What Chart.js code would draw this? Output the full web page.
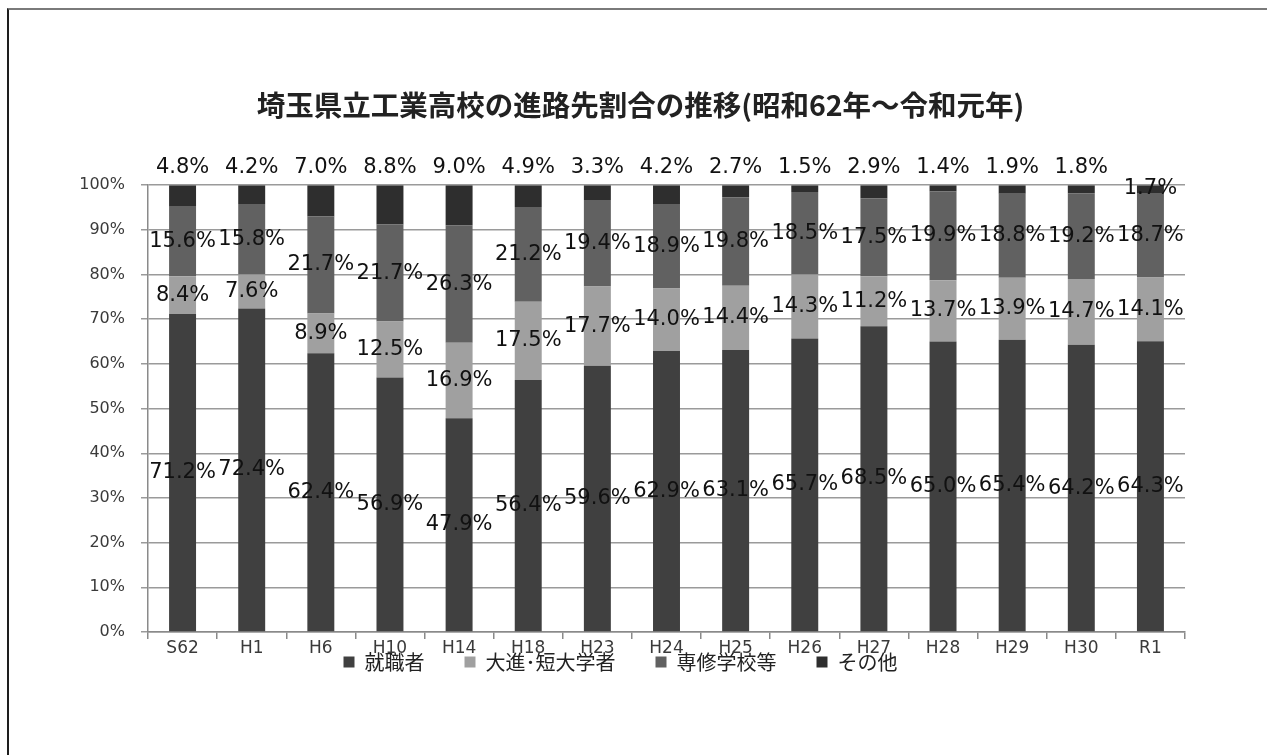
<!DOCTYPE html>
<html lang="ja">
<head>
<meta charset="utf-8">
<title>埼玉県立工業高校の進路先割合の推移</title>
<script src="https://cdn.jsdelivr.net/npm/chart.js@4.4.1/dist/chart.umd.min.js"></script>
<style>
  html, body { margin: 0; padding: 0; background: #fff; overflow: hidden; }
  #wrap { position: relative; width: 1267px; height: 755px; }
  #frame {
    position: absolute; left: 7px; top: 8px; width: 1300px; height: 800px;
    border-top: 2px solid #7a7a7a; border-left: 2px solid #1e1e1e;
  }
  #box { position: absolute; left: 0; top: 0; width: 1267px; height: 755px; }
</style>
</head>
<body>
<div id="wrap">
  <div id="frame"></div>
  <div id="box"><canvas id="myChart"></canvas></div>
</div>
<script>
// categories (年度)
const years = ["S62", "H1", "H6", "H10", "H14", "H18", "H23", "H24", "H25", "H26", "H27", "H28", "H29", "H30", "R1"];

// 進路先ごとの割合 (%)
const shushoku = [71.2, 72.4, 62.4, 56.9, 47.9, 56.4, 59.6, 62.9, 63.1, 65.7, 68.5, 65.0, 65.4, 64.2, 64.3];
const daishin  = [8.4, 7.6, 8.9, 12.5, 16.9, 17.5, 17.7, 14.0, 14.4, 14.3, 11.2, 13.7, 13.9, 14.7, 14.1];
const senshu   = [15.6, 15.8, 21.7, 21.7, 26.3, 21.2, 19.4, 18.9, 19.8, 18.5, 17.5, 19.9, 18.8, 19.2, 18.7];
const sonota   = [4.8, 4.2, 7.0, 8.8, 9.0, 4.9, 3.3, 4.2, 2.7, 1.5, 2.9, 1.4, 1.9, 1.8, 1.7];

const seriesNames = ["就職者", "大進･短大学者", "専修学校等", "その他"];
const yTicks = [0, 10, 20, 30, 40, 50, 60, 70, 80, 90, 100];

// 100%積み上げにするため各年の合計で割る
const totals = years.map(function (y, i) {
  return shushoku[i] + daishin[i] + senshu[i] + sonota[i];
});
function toShare(arr) {
  return arr.map(function (v, i) { return v / totals[i] * 100; });
}

const rawValues = [shushoku, daishin, senshu, sonota];
const colors = ["#404040", "#a0a0a0", "#616161", "#2e2e2e"];

// 値ラベル（Excel 風）
const valueLabels = {
  id: "valueLabels",
  afterDatasetsDraw: function (chart) {
    const ctx = chart.ctx;
    const area = chart.chartArea;
    ctx.save();
    ctx.font = "21px 'DejaVu Sans'";
    ctx.fillStyle = "#111";
    ctx.textAlign = "center";
    ctx.textBaseline = "middle";
    chart.data.datasets.forEach(function (ds, di) {
      const meta = chart.getDatasetMeta(di);
      meta.data.forEach(function (bar, i) {
        const text = rawValues[di][i].toFixed(1) + "%";
        let y = (bar.y + bar.base) / 2;
        if (di === 3 && i < years.length - 1) {
          y = area.top - 18;
        }
        ctx.fillText(text, bar.x, y);
      });
    });
    ctx.restore();
  }
};

// タイトルと凡例の位置を元の図に合わせて少しずらす
const shiftBoxes = {
  id: "shiftBoxes",
  afterLayout: function (chart) {
    chart.titleBlock.left += 28;
    chart.titleBlock.right += 28;
    chart.legend.left += 8;
    chart.legend.right += 8;
    chart.legend.top -= 4;
    chart.legend.bottom -= 4;
  }
};

const ctx = document.getElementById("myChart");
const myChart = new Chart(ctx, {
  type: "bar",
  data: {
    labels: years,
    datasets: rawValues.map(function (arr, i) {
      return {
        label: seriesNames[i],
        data: toShare(arr),
        backgroundColor: colors[i],
        borderWidth: 0,
        barPercentage: 0.39,
        categoryPercentage: 1.0,
      };
    }),
  },
  options: {
    responsive: true,
    maintainAspectRatio: false,
    animation: false,
    layout: {
      padding: { left: 40, right: 82, top: 0, bottom: 69 },
    },
    scales: {
      x: {
        stacked: true,
        grid: {
          display: true,
          drawOnChartArea: false,
          drawTicks: true,
          tickLength: 7,
          color: "#8a8a8a",
          lineWidth: 1.5,
        },
        border: { color: "#8a8a8a", width: 1.5 },
        ticks: {
          color: "#3a3a3a",
          padding: -1,
          font: { family: "'DejaVu Sans'", size: 17 },
        },
        afterFit: function (scale) { scale.height = 24; },
      },
      y: {
        stacked: true,
        min: 0,
        max: 100,
        afterBuildTicks: function (scale) {
          scale.ticks = yTicks.map(function (v) { return { value: v }; });
        },
        grid: {
          color: "#9a9a9a",
          lineWidth: 1.5,
          tickLength: 7,
        },
        border: { color: "#8a8a8a", width: 1.5 },
        ticks: {
          color: "#3a3a3a",
          padding: 16,
          font: { family: "'DejaVu Sans'", size: 16 },
          callback: function (v) { return v + "%"; },
        },
        afterFit: function (scale) { scale.width = 108; },
      },
    },
    plugins: {
      title: {
        display: true,
        text: "埼玉県立工業高校の進路先割合の推移(昭和62年～令和元年)",
        color: "#222",
        font: { family: "'Noto Sans CJK JP'", size: 28.5, weight: "bold" },
        padding: { top: 88, bottom: 63 },
      },
      legend: {
        position: "bottom",
        labels: {
          color: "#222",
          boxWidth: 11,
          boxHeight: 11,
          padding: 0,
          font: { family: "'Noto Sans CJK JP'", size: 20 },
          generateLabels: function (chart) {
            const items = Chart.defaults.plugins.legend.labels.generateLabels(chart);
            items.forEach(function (item, i) {
              if (i < items.length - 1) {
                item.text = item.text + "\u3000\u3000";
              }
            });
            return items;
          },
        },
      },
      tooltip: { enabled: false },
    },
  },
  plugins: [valueLabels, shiftBoxes],
});
</script>
</body>
</html>
